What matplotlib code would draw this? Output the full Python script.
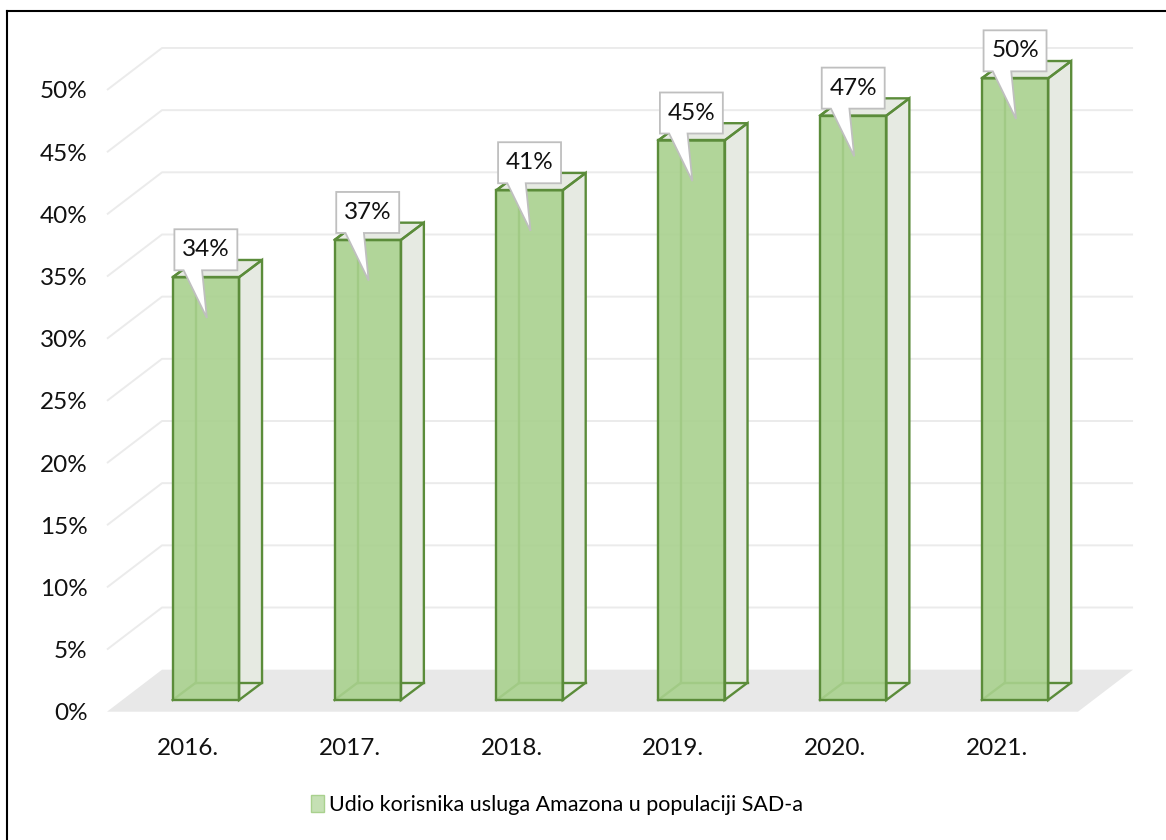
import matplotlib.pyplot as plt
from matplotlib.patches import Polygon, Patch
from matplotlib.lines import Line2D

# data
years = ['2016.', '2017.', '2018.', '2019.', '2020.', '2021.']
share = [34, 37, 41, 45, 47, 50]
share_labels = ['34%', '37%', '41%', '45%', '47%', '50%']
y_ticks = [0, 5, 10, 15, 20, 25, 30, 35, 40, 45, 50]
y_tick_labels = ['0%', '5%', '10%', '15%', '20%', '25%', '30%', '35%', '40%', '45%', '50%']
legend_label = 'Udio korisnika usluga Amazona u populaciji SAD-a'

plt.rcParams['font.family'] = ['Lato', 'DejaVu Sans']

W, H = 1166, 840
fig = plt.figure(figsize=(W / 100, H / 100), dpi=100)
ax = fig.add_axes([107 / W, (H - 711.7) / H, 971 / W, 621.7 / H])
ax.set_xlim(-0.5, len(years) - 0.5)
ax.set_ylim(0, 50)
for s in ax.spines.values():
    s.set_visible(False)

# depth of the 3d box (back wall offset, in data units)
DX, DY = 0.34, 3.38

# floor
n = len(years)
floor = Polygon([(-0.5, 0), (n - 0.5, 0), (n - 0.5 + DX, DY), (-0.5 + DX, DY)],
                closed=True, facecolor='#e8e8e8', edgecolor='none', zorder=1, clip_on=False)
ax.add_patch(floor)

# gridlines: diagonal on the side wall + horizontal on the back wall
for t in y_ticks[1:]:
    ax.plot([-0.5, -0.5 + DX, n - 0.5 + DX], [t, t + DY, t + DY],
            color='#ebebeb', lw=1.4, zorder=0, clip_on=False, solid_capstyle='butt')

# bars
bar_w = 0.41
fx, fy = 0.111, 0.94   # front face offset
bx, by = 0.253, 2.33   # back face offset
edge = '#5b8c3a'

for i, v in enumerate(share):
    x0, x1 = i - bar_w / 2, i + bar_w / 2
    F = [(x0 + fx, fy), (x1 + fx, fy), (x1 + fx, v + fy), (x0 + fx, v + fy)]
    B = [(x0 + bx, by), (x1 + bx, by), (x1 + bx, v + by), (x0 + bx, v + by)]
    right = [F[1], B[1], B[2], F[2]]
    top = [F[3], F[2], B[2], B[3]]
    ax.add_patch(Polygon(right, closed=True, facecolor='#e6eae2', edgecolor='none', zorder=3, clip_on=False))
    ax.add_patch(Polygon(top, closed=True, facecolor='#e6eae2', edgecolor='none', zorder=3, clip_on=False))
    # hidden edges seen through the front
    for a, b in [(B[0], B[3]), (B[0], B[1]), (F[0], B[0]), (B[3], F[3])]:
        ax.plot([a[0], b[0]], [a[1], b[1]], color=edge, lw=1.7, zorder=3.5, clip_on=False)
    ax.add_patch(Polygon(F, closed=True, facecolor='#a9d18e', edgecolor='none', alpha=0.9, zorder=4, clip_on=False))
    for poly in [F, right, top]:
        ax.add_patch(Polygon(poly, closed=True, facecolor='none', edgecolor=edge, lw=1.7,
                             joinstyle='miter', zorder=4.5, clip_on=False))

    # callout label
    cx = i + fx
    L, R = cx - 0.389 / 2, cx + 0.389 / 2
    Bt = v + fy + 0.56
    Tp = Bt + 3.3
    call = [(L, Bt), (L + 0.057, Bt), (cx + 0.006, v + fy - 3.27), (L + 0.171, Bt),
            (R, Bt), (R, Tp), (L, Tp)]
    ax.add_patch(Polygon(call, closed=True, facecolor='white', edgecolor='#bfbfbf', lw=1.3,
                         zorder=6, clip_on=False))
    ax.text(cx, (Bt + Tp) / 2, share_labels[i], ha='center', va='center', fontsize=17.5,
            color='#111111', zorder=7)

# axes ticks
ax.set_xticks(range(n))
ax.set_xticklabels(years, fontsize=17.5, color='#111111')
ax.set_yticks(y_ticks)
ax.set_yticklabels(y_tick_labels, fontsize=17.5, color='#111111')
ax.tick_params(axis='both', length=0)
ax.tick_params(axis='x', pad=19)
ax.tick_params(axis='y', pad=14)

# legend
handle = Patch(facecolor='#c5e0b4', edgecolor='#a9d18e', label=legend_label)
fig.legend(handles=[handle], loc='center', bbox_to_anchor=(557 / W, 1 - 805 / H),
           frameon=False, fontsize=15.5, handlelength=0.6, handleheight=0.8, handletextpad=0.2)

# outer border (left and top)
fig.add_artist(Line2D([7 / W, 7 / W], [0, 1 - 11 / H], transform=fig.transFigure, color='black', lw=1.5))
fig.add_artist(Line2D([7 / W, 1], [1 - 11 / H, 1 - 11 / H], transform=fig.transFigure, color='black', lw=1.5))

plt.savefig('out.png', dpi=100)
